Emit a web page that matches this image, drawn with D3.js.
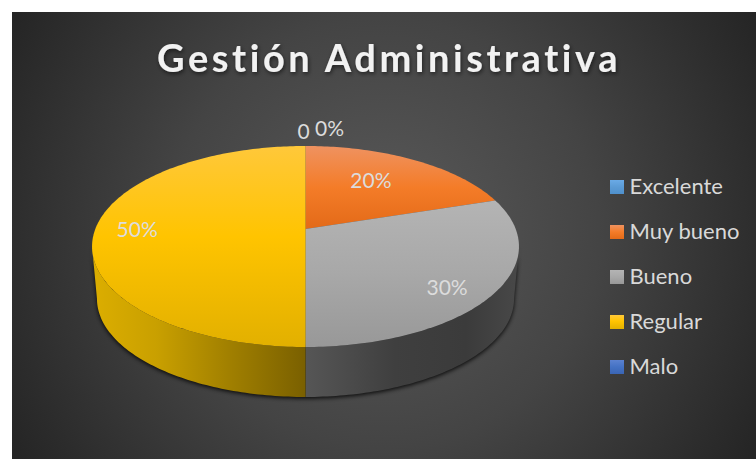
<!DOCTYPE html>
<html>
<head>
<meta charset="utf-8">
<script src="https://cdnjs.cloudflare.com/ajax/libs/d3/7.8.5/d3.min.js"></script>
<style>
html,body{margin:0;padding:0;background:#fff;overflow:hidden}
svg{display:block}
text{font-family:Lato,"Open Sans",sans-serif}
</style>
</head>
<body>
<div id="chart"></div>
<script>
const categories = ["Excelente", "Muy bueno", "Bueno", "Regular", "Malo"];
const values = [0, 20, 30, 50, 0];
const valueLabels = ["0%", "20%", "30%", "50%", "0"];
const chartTitle = "Gestión Administrativa";

const W = 756, H = 459;
const panel = {x: 12, y: 12, w: 744, h: 447};

// Tilted disc: the pie's centre sits above the middle of its outline.
const disc = {cx: 305.5, cy: 229, r: 210.2, a: 57.6, c: -0.174, depth: 52.7, shrink: 0.977};

// Label offsets from the slice centroid on the disc, in pixels.
const labelOffset = [[24, -10], [-5, 4], [29, 28], [-38, 8], [-2, -7]];

const sliceStops = [
  [["#6aaae6", 0], ["#5b9bd5", .5], ["#4f90cc", 1]],
  [["#ef9260", 0], ["#f47c28", .5], ["#e36a18", 1]],
  [["#b4b4b4", 0], ["#a8a8a8", .5], ["#989898", 1]],
  [["#ffc83a", 0], ["#ffc400", .45], ["#e2b000", 1]],
  [["#5b82d0", 0], ["#4472c4", .5], ["#3a65b4", 1]]
];
// Wall shading runs from the pie's vertical axis towards the outer edge of the slice.
const wallStops = [
  null, null,
  [["#565656", 0], ["#3f3f3f", .42], ["#3b3b3b", .75], ["#484848", 1]],
  [["#7a6000", 0], ["#a07f00", .35], ["#c9a000", .7], ["#dcae00", 1]],
  null
];

const svg = d3.select("#chart").append("svg").attr("width", W).attr("height", H);
const defs = svg.append("defs");

const bg = defs.append("radialGradient").attr("id", "panelBg")
  .attr("gradientUnits", "userSpaceOnUse")
  .attr("cx", 384).attr("cy", 233).attr("r", 430);
bg.append("stop").attr("offset", 0).attr("stop-color", "#5a5a5a");
bg.append("stop").attr("offset", .5).attr("stop-color", "#444444");
bg.append("stop").attr("offset", 1).attr("stop-color", "#252525");

const blur = defs.append("filter").attr("id", "soft")
  .attr("x", "-10%").attr("y", "-10%").attr("width", "120%").attr("height", "120%");
blur.append("feGaussianBlur").attr("stdDeviation", 2.2);

const titleShadow = defs.append("filter").attr("id", "titleShadow")
  .attr("x", "-5%").attr("y", "-20%").attr("width", "110%").attr("height", "150%");
titleShadow.append("feDropShadow").attr("dx", 1).attr("dy", 2).attr("stdDeviation", 2)
  .attr("flood-color", "#000").attr("flood-opacity", .55);

function addVerticalGradient(id, stops) {
  const g = defs.append("linearGradient").attr("id", id)
    .attr("x1", 0).attr("y1", 0).attr("x2", 0).attr("y2", 1);
  stops.forEach(([c, o]) => g.append("stop").attr("offset", o).attr("stop-color", c));
}
sliceStops.forEach((s, i) => addVerticalGradient("slice" + i, s));

svg.append("rect").attr("x", panel.x).attr("y", panel.y)
  .attr("width", panel.w).attr("height", panel.h).attr("fill", "url(#panelBg)");

// Projects a pie angle and radius fraction onto the tilted face; the lower rim
// uses a slightly smaller scale and a vertical drop.
function pt(angle, rad = 1, scale = 1, dy = 0) {
  const u = rad * Math.sin(angle), v = -rad * Math.cos(angle);
  const w = 1 + disc.c * v;
  const y0 = (disc.cy + disc.a * v) / w;
  return [disc.cx + scale * disc.r * u / w, disc.cy + scale * (y0 - disc.cy) + dy];
}

const arcs = d3.pie().value(d => d).sort(null)(values);
const step = Math.PI / 180;
const line = d3.line();

function rimAngles(a0, a1) {
  const n = Math.max(2, Math.ceil((a1 - a0) / step));
  return d3.range(n + 1).map(i => a0 + (a1 - a0) * i / n);
}

// The visible wall begins where the rim reaches its widest point on screen.
const frontStart = Math.PI / 2 + .175, frontEnd = 1.5 * Math.PI - .175;

// Side wall of a slice: top rim forward, lower rim back, limited to the front half.
function wallPath(a0, a1) {
  const s = Math.max(a0, frontStart), e = Math.min(a1, frontEnd);
  if (e <= s) return null;
  const angs = rimAngles(s, e);
  const upper = angs.map(a => pt(a));
  const lower = angs.slice().reverse().map(a => pt(a, 1, disc.shrink, disc.depth));
  return line(upper.concat(lower)) + "Z";
}

// Dark soft edge under the wall.
const frontRim = rimAngles(frontStart, frontEnd);
svg.append("path")
  .attr("d", line(frontRim.map(a => pt(a))
    .concat(frontRim.slice().reverse().map(a => pt(a, 1, disc.shrink, disc.depth + 1.5)))) + "Z")
  .attr("fill", "#000").attr("opacity", .85).attr("filter", "url(#soft)");

arcs.forEach((d, i) => {
  const stops = wallStops[i];
  if (!stops) return;
  const p = wallPath(d.startAngle, d.endAngle);
  if (!p) return;
  const onRight = (d.startAngle + d.endAngle) / 2 < Math.PI;
  const edge = onRight ? disc.cx + disc.r * 1.015 : disc.cx - disc.r * 1.015;
  const g = defs.append("linearGradient").attr("id", "wall" + i)
    .attr("gradientUnits", "userSpaceOnUse")
    .attr("x1", disc.cx).attr("y1", 0)
    .attr("x2", edge).attr("y2", 0);
  stops.forEach(([c, o]) => g.append("stop").attr("offset", o).attr("stop-color", c));
  svg.append("path").attr("d", p).attr("fill", `url(#wall${i})`);
});

// Top face slices.
arcs.forEach((d, i) => {
  if (d.endAngle === d.startAngle) return;
  const rim = rimAngles(d.startAngle, d.endAngle).map(a => pt(a));
  svg.append("path")
    .attr("d", line([[disc.cx, disc.cy]].concat(rim)) + "Z")
    .attr("fill", `url(#slice${i})`);
});

// Value labels.
const labelLayer = svg.append("g").attr("fill", "#dcdcdc").attr("font-size", 21)
  .attr("text-anchor", "middle");
arcs.forEach((d, i) => {
  const mid = (d.startAngle + d.endAngle) / 2;
  const [x, y] = pt(mid, i === 0 || i === 4 ? 1 : .62);
  labelLayer.append("text")
    .attr("x", x + labelOffset[i][0]).attr("y", y + labelOffset[i][1])
    .text(valueLabels[i]);
});

// Title.
svg.append("text").attr("x", 389).attr("y", 72).attr("text-anchor", "middle")
  .attr("font-size", 38).attr("font-weight", 700).attr("letter-spacing", 3.55)
  .attr("fill", "#f2f2f2").attr("filter", "url(#titleShadow)").text(chartTitle);

// Legend.
const legendY = d3.scalePoint().domain(categories).range([187, 367]);
const legend = svg.append("g").selectAll("g").data(categories).join("g")
  .attr("transform", d => `translate(610,${legendY(d)})`);
legend.append("rect").attr("x", 0).attr("y", -7).attr("width", 14).attr("height", 14)
  .attr("fill", (d, i) => `url(#slice${i})`);
legend.append("text").attr("x", 19.5).attr("y", 7).attr("font-size", 22)
  .attr("fill", "#d9d9d9").text(d => d);
</script>
</body>
</html>
